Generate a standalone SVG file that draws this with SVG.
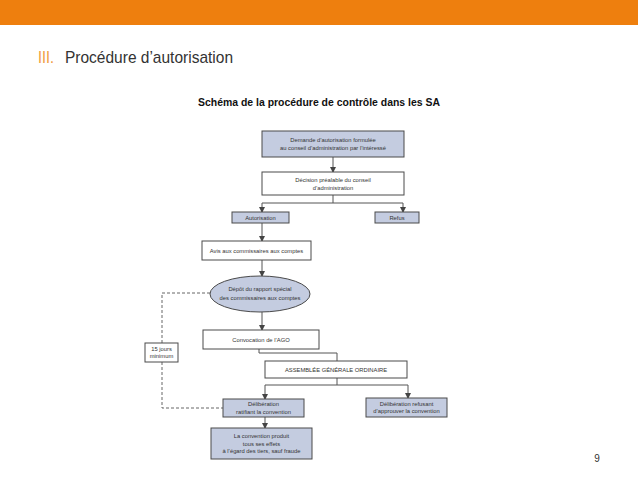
<svg xmlns="http://www.w3.org/2000/svg" width="638" height="479" viewBox="0 0 638 479">
<style>
.bx{fill:#c4cce0;stroke:#4a4a4a;stroke-width:1}
.wb{fill:#ffffff;stroke:#4a4a4a;stroke-width:1}
.t{font-family:"Liberation Sans",Arial,sans-serif;font-size:5.8px;fill:#333;text-anchor:middle}
.ln{fill:none;stroke:#555;stroke-width:1}
.ds{fill:none;stroke:#666;stroke-width:1;stroke-dasharray:3,2}
</style>
<defs>
<marker id="ah" markerWidth="6" markerHeight="6" refX="5" refY="3" orient="auto" markerUnits="userSpaceOnUse">
<path d="M0,0 L6,3 L0,6 z" fill="#444"/>
</marker>
</defs>
<rect x="0" y="0" width="638" height="25" fill="#ee7f0e"/>
<text x="38" y="63" font-family="Liberation Sans,Arial,sans-serif" font-size="17" fill="#f09a3e" textLength="16" lengthAdjust="spacingAndGlyphs">III.</text>
<text x="65" y="63" font-family="Liberation Sans,Arial,sans-serif" font-size="17" fill="#333" textLength="168" lengthAdjust="spacingAndGlyphs">Procédure d’autorisation</text>
<text x="319" y="106" font-family="Liberation Sans,Arial,sans-serif" font-size="10" font-weight="bold" fill="#111" text-anchor="middle" textLength="242" lengthAdjust="spacingAndGlyphs">Schéma de la procédure de contrôle dans les SA</text>
<text x="597" y="462" font-family="Liberation Sans,Arial,sans-serif" font-size="10" fill="#333" text-anchor="middle">9</text>

<g id="connectors">
<line class="ln" x1="333" y1="157" x2="333" y2="172" marker-end="url(#ah)"/>
<polyline class="ln" points="333,195 333,203 262,203 262,212" marker-end="url(#ah)"/>
<polyline class="ln" points="333,203 403,203 403,212" marker-end="url(#ah)"/>
<line class="ln" x1="262" y1="223" x2="262" y2="241" marker-end="url(#ah)"/>
<line class="ln" x1="262" y1="260" x2="262" y2="276" marker-end="url(#ah)"/>
<line class="ln" x1="262" y1="312" x2="262" y2="330" marker-end="url(#ah)"/>
<polyline class="ln" points="259,349 259,353 337,353 337,361"/>
<polyline class="ln" points="337,378 337,385 265,385 265,399" marker-end="url(#ah)"/>
<polyline class="ln" points="337,385 408,385 408,398" marker-end="url(#ah)"/>
<line class="ln" x1="265" y1="417" x2="265" y2="428" marker-end="url(#ah)"/>
<polyline class="ds" points="210,293 162,293 162,343"/>
<polyline class="ds" points="162,362 162,408 223,408"/>
</g>

<g id="n1"><rect class="bx" x="262" y="131" width="142" height="26"/>
<text class="t" x="333" y="142">Demande d’autorisation formulée</text>
<text class="t" x="333" y="150">au conseil d’administration par l’intéressé</text></g>

<g id="n2"><rect class="wb" x="262" y="172" width="142" height="23"/>
<text class="t" x="333" y="182">Décision préalable du conseil</text>
<text class="t" x="333" y="190">d’administration</text></g>

<g id="n3"><rect class="bx" x="232" y="212" width="57" height="11"/>
<text class="t" x="260.5" y="219.5">Autorisation</text></g>

<g id="n4"><rect class="bx" x="375" y="212" width="44" height="11"/>
<text class="t" x="397" y="219.5">Refus</text></g>

<g id="n5"><rect class="wb" x="202" y="241" width="109" height="19"/>
<text class="t" x="256.5" y="252.5">Avis aux commissaires aux comptes</text></g>

<g id="n6"><ellipse class="bx" cx="260" cy="294" rx="50" ry="18"/>
<text class="t" x="260" y="291">Dépôt du rapport spécial</text>
<text class="t" x="260" y="300">des commissaires aux comptes</text></g>

<g id="n7"><rect class="wb" x="203" y="330" width="116" height="19"/>
<text class="t" x="261" y="341.5">Convocation de l’AGO</text></g>

<g id="n8"><rect class="wb" x="145" y="343" width="33" height="19"/>
<text class="t" x="161.5" y="351">15 jours</text>
<text class="t" x="161.5" y="358">minimum</text></g>

<g id="n9"><rect class="wb" x="265" y="361" width="142" height="17"/>
<text class="t" x="336" y="371.5">ASSEMBLÉE GÉNÉRALE ORDINAIRE</text></g>

<g id="n10"><rect class="bx" x="223" y="399" width="81" height="18"/>
<text class="t" x="263.5" y="406">Délibération</text>
<text class="t" x="263.5" y="413.5">ratifiant la convention</text></g>

<g id="n11"><rect class="bx" x="366" y="398" width="81" height="19"/>
<text class="t" x="406.5" y="405.5">Délibération refusant</text>
<text class="t" x="406.5" y="413">d’approuver la convention</text></g>

<g id="n12"><rect class="bx" x="211" y="428" width="101" height="31"/>
<text class="t" x="261.5" y="438">La convention produit</text>
<text class="t" x="261.5" y="445.5">tous ses effets</text>
<text class="t" x="261.5" y="453">à l’égard des tiers, sauf fraude</text></g>
</svg>
